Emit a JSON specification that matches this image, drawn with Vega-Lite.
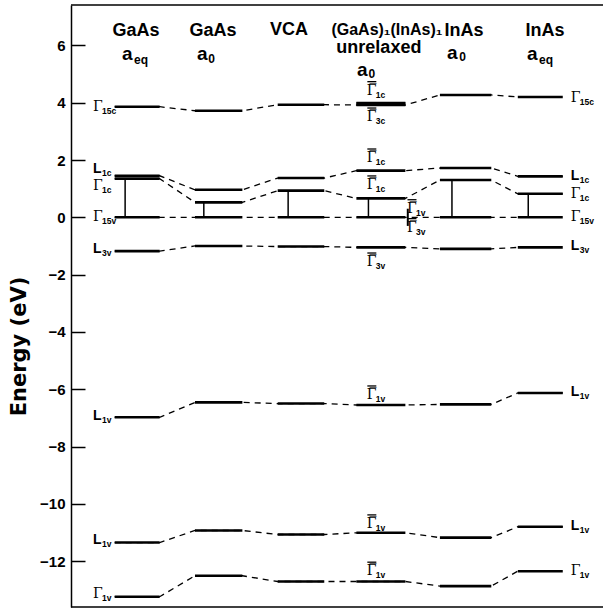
{
  "$schema": "https://vega.github.io/schema/vega-lite/v6.json",
  "width": 532,
  "height": 602,
  "autosize": {"type": "none"},
  "padding": {"left": 71, "top": 5, "right": 0, "bottom": 2},
  "background": "white",
  "config": {
    "view": {"stroke": null},
    "axisX": {"disable": true},
    "axisY": {
      "grid": false, "tickCount": 10,
      "domainColor": "black", "domainWidth": 1.5,
      "tickColor": "black", "tickWidth": 1.5, "tickSize": -14,
      "labelPadding": 20, "labelFont": "Liberation Sans", "labelFontWeight": "bold",
      "labelFontSize": 15, "labelColor": "black",
      "titleFont": "DejaVu Sans", "titleFontWeight": "bold", "titleFontSize": 21,
      "titleColor": "black", "titleX": -52, "titleY": 341, "titleAngle": -90,
      "titleAlign": "center", "titleBaseline": "middle"
    }
  },
  "datasets": {
    "cols": [
      {"col": 1, "x0": 0.71, "x1": 1.27, "xb": 0.84},
      {"col": 2, "x0": 1.71, "x1": 2.30, "xb": 1.82},
      {"col": 3, "x0": 2.74, "x1": 3.32, "xb": 2.87},
      {"col": 4, "x0": 3.72, "x1": 4.33, "xb": 3.87},
      {"col": 5, "x0": 4.76, "x1": 5.40, "xb": 4.91},
      {"col": 6, "x0": 5.73, "x1": 6.29, "xb": 5.86}
    ],
    "levels": [
      {"band": "G15c", "col": 1, "e": 3.86}, {"band": "G15c", "col": 2, "e": 3.72}, {"band": "G15c", "col": 3, "e": 3.93},
      {"band": "G15c", "col": 4, "e": 3.92}, {"band": "G15c", "col": 5, "e": 4.27}, {"band": "G15c", "col": 6, "e": 4.2},
      {"band": "G1c4", "col": 4, "e": 3.99},
      {"band": "L1c", "col": 1, "e": 1.45}, {"band": "L1c", "col": 2, "e": 0.96}, {"band": "L1c", "col": 3, "e": 1.37},
      {"band": "L1c", "col": 4, "e": 1.63}, {"band": "L1c", "col": 5, "e": 1.72}, {"band": "L1c", "col": 6, "e": 1.43},
      {"band": "G1c", "col": 1, "e": 1.35}, {"band": "G1c", "col": 2, "e": 0.52}, {"band": "G1c", "col": 3, "e": 0.93},
      {"band": "G1c", "col": 4, "e": 0.66}, {"band": "G1c", "col": 5, "e": 1.3}, {"band": "G1c", "col": 6, "e": 0.82},
      {"band": "G15v", "col": 1, "e": 0}, {"band": "G15v", "col": 2, "e": 0}, {"band": "G15v", "col": 3, "e": 0},
      {"band": "G15v", "col": 4, "e": 0}, {"band": "G15v", "col": 5, "e": 0}, {"band": "G15v", "col": 6, "e": 0},
      {"band": "L3v", "col": 1, "e": -1.18}, {"band": "L3v", "col": 2, "e": -1.0}, {"band": "L3v", "col": 3, "e": -1.02},
      {"band": "L3v", "col": 4, "e": -1.05}, {"band": "L3v", "col": 5, "e": -1.1}, {"band": "L3v", "col": 6, "e": -1.05},
      {"band": "L1va", "col": 1, "e": -6.98}, {"band": "L1va", "col": 2, "e": -6.46}, {"band": "L1va", "col": 3, "e": -6.5},
      {"band": "L1va", "col": 4, "e": -6.55}, {"band": "L1va", "col": 5, "e": -6.53}, {"band": "L1va", "col": 6, "e": -6.13},
      {"band": "L1vb", "col": 1, "e": -11.35}, {"band": "L1vb", "col": 2, "e": -10.93}, {"band": "L1vb", "col": 3, "e": -11.07},
      {"band": "L1vb", "col": 4, "e": -11.01}, {"band": "L1vb", "col": 5, "e": -11.18}, {"band": "L1vb", "col": 6, "e": -10.8},
      {"band": "G1v", "col": 1, "e": -13.24}, {"band": "G1v", "col": 2, "e": -12.51}, {"band": "G1v", "col": 3, "e": -12.71},
      {"band": "G1v", "col": 4, "e": -12.71}, {"band": "G1v", "col": 5, "e": -12.87}, {"band": "G1v", "col": 6, "e": -12.35}
    ],
    "labels": [
      {"u": 0.44, "e": 3.84, "s": "Γ", "sub": "15c"},
      {"u": 0.44, "e": 1.68, "s": "L", "sub": "1c"},
      {"u": 0.44, "e": 1.1, "s": "Γ", "sub": "1c"},
      {"u": 0.44, "e": 0.0, "s": "Γ", "sub": "15v"},
      {"u": 0.44, "e": -1.1, "s": "L", "sub": "3v"},
      {"u": 0.44, "e": -6.92, "s": "L", "sub": "1v"},
      {"u": 0.44, "e": -11.25, "s": "L", "sub": "1v"},
      {"u": 0.44, "e": -13.15, "s": "Γ", "sub": "1v"},
      {"u": 6.39, "e": 4.18, "s": "Γ", "sub": "15c"},
      {"u": 6.39, "e": 1.45, "s": "L", "sub": "1c"},
      {"u": 6.39, "e": 0.82, "s": "Γ", "sub": "1c"},
      {"u": 6.39, "e": 0.0, "s": "Γ", "sub": "15v"},
      {"u": 6.39, "e": -1.0, "s": "L", "sub": "3v"},
      {"u": 6.39, "e": -6.08, "s": "L", "sub": "1v"},
      {"u": 6.39, "e": -10.78, "s": "L", "sub": "1v"},
      {"u": 6.39, "e": -12.33, "s": "Γ", "sub": "1v"},
      {"u": 3.85, "e": 4.42, "s": "Γ̅", "sub": "1c"},
      {"u": 3.85, "e": 3.5, "s": "Γ̅", "sub": "3c"},
      {"u": 3.85, "e": 2.07, "s": "Γ̅", "sub": "1c"},
      {"u": 3.85, "e": 1.13, "s": "Γ̅", "sub": "1c"},
      {"u": 4.35, "e": 0.3, "s": "Γ̅", "sub": "1v"},
      {"u": 4.35, "e": -0.36, "s": "Γ̅", "sub": "3v"},
      {"u": 3.85, "e": -1.56, "s": "Γ̅", "sub": "3v"},
      {"u": 3.85, "e": -6.2, "s": "Γ̅", "sub": "1v"},
      {"u": 3.85, "e": -10.7, "s": "Γ̅", "sub": "1v"},
      {"u": 3.85, "e": -12.35, "s": "Γ̅", "sub": "1v"}
    ],
    "headers": [
      {"u": 0.975, "e": 6.52, "t": "GaAs", "k": "c"},
      {"u": 1.934, "e": 6.52, "t": "GaAs", "k": "c"},
      {"u": 2.881, "e": 6.55, "t": "VCA", "k": "c"},
      {"u": 4.10, "e": 6.55, "t": "(GaAs)₁(InAs)₁", "k": "c2"},
      {"u": 4.0, "e": 5.9, "t": "unrelaxed", "k": "c"},
      {"u": 5.06, "e": 6.52, "t": "InAs", "k": "c"},
      {"u": 6.069, "e": 6.52, "t": "InAs", "k": "c"},
      {"u": 0.80, "e": 5.7, "t": "a", "k": "a"},
      {"u": 0.95, "e": 5.5, "t": "eq", "k": "s"},
      {"u": 1.735, "e": 5.7, "t": "a", "k": "a"},
      {"u": 1.875, "e": 5.52, "t": "0", "k": "s"},
      {"u": 3.728, "e": 5.14, "t": "a", "k": "a"},
      {"u": 3.87, "e": 5.0, "t": "0", "k": "s"},
      {"u": 4.848, "e": 5.75, "t": "a", "k": "a"},
      {"u": 5.0, "e": 5.58, "t": "0", "k": "s"},
      {"u": 5.845, "e": 5.7, "t": "a", "k": "a"},
      {"u": 5.994, "e": 5.5, "t": "eq", "k": "s"}
    ]
  },
  "layer": [
    {
      "data": {"values": [{"e": 7.41}, {"e": -13.6}]},
      "mark": {"type": "rule", "color": "black", "strokeWidth": 1.5},
      "encoding": {
        "y": {"field": "e", "type": "quantitative", "title": "Energy  (eV)", "scale": {"domain": [-13.6, 7.41], "nice": false, "zero": false}}
      }
    },
    {
      "data": {"name": "levels"},
      "transform": [
        {"lookup": "col", "from": {"data": {"name": "cols"}, "key": "col", "fields": ["x0", "x1", "xb"]}},
        {"fold": ["x0", "x1"], "as": ["k", "u"]}
      ],
      "mark": {"type": "line", "color": "black", "strokeWidth": 1.3, "strokeDash": [6, 5]},
      "encoding": {
        "x": {"field": "u", "type": "quantitative", "scale": {"domain": [0.166, 6.791], "nice": false, "zero": false}},
        "y": {"field": "e", "type": "quantitative", "title": "Energy  (eV)", "scale": {"domain": [-13.6, 7.41], "nice": false, "zero": false}},
        "detail": {"field": "band"},
        "order": {"field": "u", "type": "quantitative"}
      }
    },
    {
      "data": {"name": "levels"},
      "transform": [
        {"lookup": "col", "from": {"data": {"name": "cols"}, "key": "col", "fields": ["x0", "x1", "xb"]}}
      ],
      "mark": {"type": "rule", "color": "black", "strokeWidth": 2.6},
      "encoding": {
        "x": {"field": "x0", "type": "quantitative", "scale": {"domain": [0.166, 6.791], "nice": false, "zero": false}},
        "x2": {"field": "x1"},
        "y": {"field": "e", "type": "quantitative", "title": "Energy  (eV)", "scale": {"domain": [-13.6, 7.41], "nice": false, "zero": false}}
      }
    },
    {
      "data": {"name": "levels"},
      "transform": [
        {"filter": "datum.band == 'G1c'"},
        {"lookup": "col", "from": {"data": {"name": "cols"}, "key": "col", "fields": ["x0", "x1", "xb"]}}
      ],
      "mark": {"type": "rule", "color": "black", "strokeWidth": 1.5},
      "encoding": {
        "x": {"field": "xb", "type": "quantitative", "scale": {"domain": [0.166, 6.791], "nice": false, "zero": false}},
        "y": {"field": "e", "type": "quantitative", "title": "Energy  (eV)", "scale": {"domain": [-13.6, 7.41], "nice": false, "zero": false}},
        "y2": {"datum": 0}
      }
    },
    {
      "data": {"values": [{"u": 4.36, "e": -0.3, "e2": 0.3}]},
      "mark": {"type": "rule", "color": "black", "strokeWidth": 2},
      "encoding": {
        "x": {"field": "u", "type": "quantitative", "scale": {"domain": [0.166, 6.791], "nice": false, "zero": false}},
        "y": {"field": "e", "type": "quantitative", "title": "Energy  (eV)", "scale": {"domain": [-13.6, 7.41], "nice": false, "zero": false}},
        "y2": {"field": "e2"}
      }
    },
    {
      "data": {"name": "labels"},
      "transform": [{"filter": "datum.s != 'L'"}],
      "mark": {"type": "text", "align": "left", "baseline": "middle", "font": "DejaVu Serif", "fontSize": 14, "color": "black"},
      "encoding": {
        "x": {"field": "u", "type": "quantitative", "scale": {"domain": [0.166, 6.791], "nice": false, "zero": false}},
        "y": {"field": "e", "type": "quantitative", "title": "Energy  (eV)", "scale": {"domain": [-13.6, 7.41], "nice": false, "zero": false}},
        "text": {"field": "s"}
      }
    },
    {
      "data": {"name": "labels"},
      "transform": [{"filter": "datum.s != 'L' && datum.s != 'Γ'"}],
      "mark": {"type": "tick", "orient": "horizontal", "size": 9, "thickness": 1.3, "xOffset": 5, "yOffset": -9, "color": "black", "opacity": 1},
      "encoding": {
        "x": {"field": "u", "type": "quantitative", "scale": {"domain": [0.166, 6.791], "nice": false, "zero": false}},
        "y": {"field": "e", "type": "quantitative", "title": "Energy  (eV)", "scale": {"domain": [-13.6, 7.41], "nice": false, "zero": false}}
      }
    },
    {
      "data": {"name": "labels"},
      "transform": [{"filter": "datum.s == 'L'"}],
      "mark": {"type": "text", "align": "left", "baseline": "middle", "font": "Liberation Sans", "fontWeight": "bold", "fontSize": 14, "color": "black"},
      "encoding": {
        "x": {"field": "u", "type": "quantitative", "scale": {"domain": [0.166, 6.791], "nice": false, "zero": false}},
        "y": {"field": "e", "type": "quantitative", "title": "Energy  (eV)", "scale": {"domain": [-13.6, 7.41], "nice": false, "zero": false}},
        "text": {"field": "s"}
      }
    },
    {
      "data": {"name": "labels"},
      "mark": {"type": "text", "align": "left", "baseline": "middle", "dx": 9, "dy": 4, "font": "Liberation Sans", "fontWeight": "bold", "fontSize": 8.5, "color": "black"},
      "encoding": {
        "x": {"field": "u", "type": "quantitative", "scale": {"domain": [0.166, 6.791], "nice": false, "zero": false}},
        "y": {"field": "e", "type": "quantitative", "title": "Energy  (eV)", "scale": {"domain": [-13.6, 7.41], "nice": false, "zero": false}},
        "text": {"field": "sub"}
      }
    },
    {
      "data": {"name": "headers"},
      "transform": [{"filter": "datum.k == 'c' || datum.k == 'c2'"}],
      "mark": {"type": "text", "align": "center", "baseline": "middle", "font": "Liberation Sans", "fontWeight": "bold", "color": "black"},
      "encoding": {
        "x": {"field": "u", "type": "quantitative", "scale": {"domain": [0.166, 6.791], "nice": false, "zero": false}},
        "y": {"field": "e", "type": "quantitative", "title": "Energy  (eV)", "scale": {"domain": [-13.6, 7.41], "nice": false, "zero": false}},
        "text": {"field": "t"},
        "size": {"field": "k", "type": "nominal", "scale": {"domain": ["c", "c2"], "range": [18, 16]}, "legend": null}
      }
    },
    {
      "data": {"name": "headers"},
      "transform": [{"filter": "datum.k == 'a' || datum.k == 's'"}],
      "mark": {"type": "text", "align": "left", "baseline": "middle", "font": "Liberation Sans", "fontWeight": "bold", "color": "black"},
      "encoding": {
        "x": {"field": "u", "type": "quantitative", "scale": {"domain": [0.166, 6.791], "nice": false, "zero": false}},
        "y": {"field": "e", "type": "quantitative", "title": "Energy  (eV)", "scale": {"domain": [-13.6, 7.41], "nice": false, "zero": false}},
        "text": {"field": "t"},
        "size": {"field": "k", "type": "nominal", "scale": {"domain": ["a", "s"], "range": [19, 12]}, "legend": null}
      }
    }
  ],
  "resolve": {"scale": {"size": "independent"}}
}
